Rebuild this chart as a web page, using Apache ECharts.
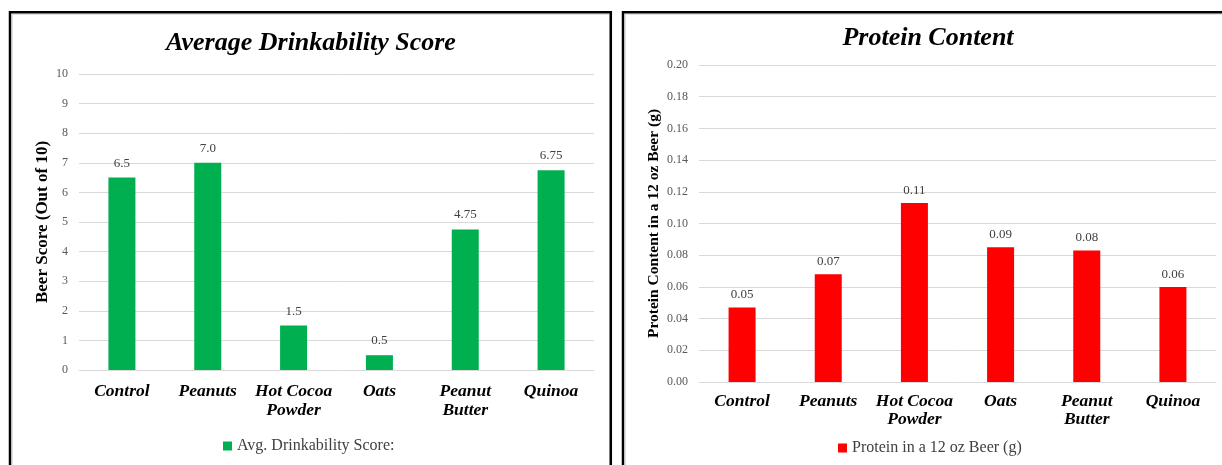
<!DOCTYPE html>
<html>
<head>
<meta charset="utf-8">
<script src="https://cdn.jsdelivr.net/npm/echarts@6/dist/echarts.min.js"></script>
<style>
html,body{margin:0;padding:0;background:#fff;}
#c{width:1222px;height:465px;}
</style>
</head>
<body>
<div id="c"></div>
<script>
// ---- data ----
const categories = ['Control', 'Peanuts', 'Hot Cocoa\nPowder', 'Oats', 'Peanut\nButter', 'Quinoa'];
const drinkTitle = 'Average Drinkability Score';
const drinkSeriesName = 'Avg. Drinkability Score:';
const drinkAxisName = 'Beer Score (Out of 10)';
const drinkValues = [6.5, 7.0, 1.5, 0.5, 4.75, 6.75];
const drinkLabels = ['6.5', '7.0', '1.5', '0.5', '4.75', '6.75'];
const proteinTitle = 'Protein Content';
const proteinSeriesName = 'Protein in a 12 oz Beer (g)';
const proteinAxisName = 'Protein Content in a 12 oz Beer (g)';
const proteinValues = [0.047, 0.068, 0.113, 0.085, 0.083, 0.060];

const serif = 'Liberation Serif';
const tickStyle = {color: '#595959', fontFamily: serif, fontSize: 12};
const catStyle = {color: '#000', fontFamily: serif, fontSize: 17.5, fontWeight: 'bold', fontStyle: 'italic'};
const gridLine = {show: true, lineStyle: {color: '#d9d9d9', width: 1}};

const chart = echarts.init(document.getElementById('c'));
chart.setOption({
  animation: false,
  backgroundColor: '#fff',
  graphic: [
    {type: 'rect', shape: {x: 12.5, y: 14.5, width: 597, height: 500}, style: {fill: 'none', stroke: '#e0e0e0', lineWidth: 1}, z: 100},
    {type: 'rect', shape: {x: 10, y: 12.2, width: 600.8, height: 500}, style: {fill: 'none', stroke: '#000', lineWidth: 2.5}, z: 101},
    {type: 'rect', shape: {x: 625.5, y: 14.5, width: 700, height: 500}, style: {fill: 'none', stroke: '#e0e0e0', lineWidth: 1}, z: 100},
    {type: 'rect', shape: {x: 623, y: 12.2, width: 700, height: 500}, style: {fill: 'none', stroke: '#000', lineWidth: 2.5}, z: 101}
  ],
  title: [
    {text: drinkTitle, left: 311, top: 30, textAlign: 'center', padding: 0,
     textStyle: {fontFamily: serif, fontSize: 26, fontWeight: 'bold', fontStyle: 'italic', color: '#000'}},
    {text: proteinTitle, left: 928, top: 25, textAlign: 'center', padding: 0,
     textStyle: {fontFamily: serif, fontSize: 26, fontWeight: 'bold', fontStyle: 'italic', color: '#000'}}
  ],
  legend: [
    {data: [drinkSeriesName], left: 223, top: 438, itemWidth: 9, itemHeight: 9, itemGap: 4, padding: 0, icon: 'rect',
     textStyle: {fontFamily: serif, fontSize: 16, color: '#404040'}},
    {data: [proteinSeriesName], left: 838, top: 440, itemWidth: 9, itemHeight: 9, itemGap: 4, padding: 0, icon: 'rect',
     textStyle: {fontFamily: serif, fontSize: 16, color: '#404040'}}
  ],
  grid: [
    {left: 79, top: 74, width: 515, height: 296},
    {left: 699, top: 65, width: 517, height: 317}
  ],
  xAxis: [
    {type: 'category', gridIndex: 0, data: categories, axisTick: {show: false},
     axisLine: {lineStyle: {color: '#d9d9d9'}}, axisLabel: Object.assign({margin: 12, interval: 0, lineHeight: 19}, catStyle)},
    {type: 'category', gridIndex: 1, data: categories, axisTick: {show: false},
     axisLine: {lineStyle: {color: '#d9d9d9'}}, axisLabel: Object.assign({margin: 10, interval: 0, lineHeight: 18}, catStyle)}
  ],
  yAxis: [
    {type: 'value', gridIndex: 0, min: 0, max: 10, interval: 1, splitLine: gridLine,
     axisLine: {show: false}, axisTick: {show: false}, axisLabel: Object.assign({margin: 11}, tickStyle),
     name: drinkAxisName, nameLocation: 'middle', nameGap: 28,
     nameTextStyle: {fontFamily: serif, fontSize: 17, fontWeight: 'bold', color: '#000'}},
    {type: 'value', gridIndex: 1, min: 0, max: 0.2, interval: 0.02, splitLine: gridLine,
     axisLine: {show: false}, axisTick: {show: false},
     axisLabel: Object.assign({margin: 11, formatter: v => v.toFixed(2)}, tickStyle),
     name: proteinAxisName, nameLocation: 'middle', nameGap: 37,
     nameTextStyle: {fontFamily: serif, fontSize: 15.5, fontWeight: 'bold', color: '#000'}}
  ],
  series: [
    {name: drinkSeriesName, type: 'bar', xAxisIndex: 0, yAxisIndex: 0, data: drinkValues, barWidth: 27,
     itemStyle: {color: '#00B050'},
     label: {show: true, position: 'top', distance: 8, formatter: p => drinkLabels[p.dataIndex],
             fontFamily: serif, fontSize: 13, color: '#404040'}},
    {name: proteinSeriesName, type: 'bar', xAxisIndex: 1, yAxisIndex: 1, data: proteinValues, barWidth: 27,
     itemStyle: {color: '#FF0000'},
     label: {show: true, position: 'top', distance: 6, formatter: p => p.value.toFixed(2),
             fontFamily: serif, fontSize: 13, color: '#404040'}}
  ]
});
</script>
</body>
</html>
